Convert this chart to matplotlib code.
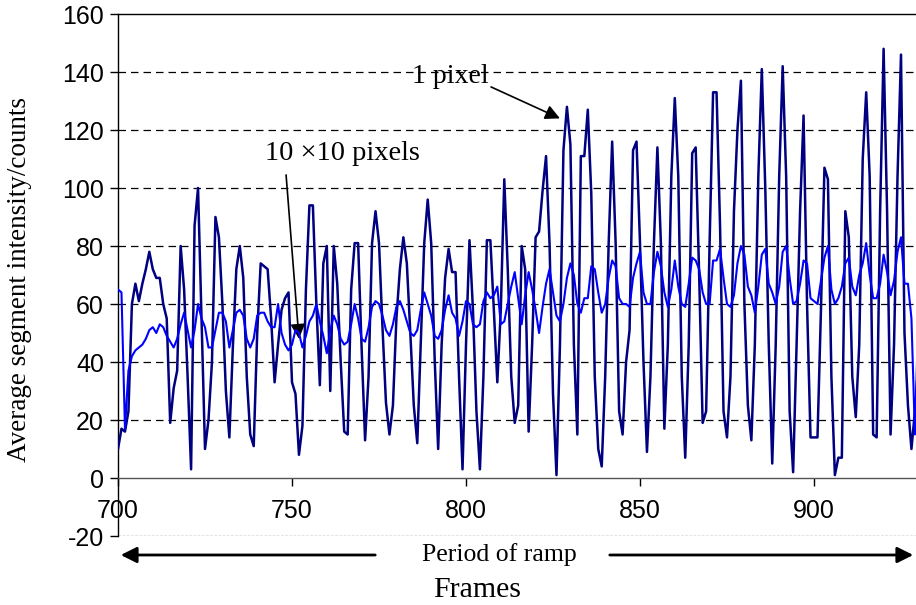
import numpy as np
import matplotlib
matplotlib.use("Agg")
import matplotlib.pyplot as plt

plt.rcParams["axes.unicode_minus"] = False

frames = np.arange(700, 931)

one_pixel = [
    10, 17, 16, 23, 60, 67, 61, 67, 72, 78,
    72, 69, 69, 60, 55, 19, 31, 37, 80, 65,
    35, 3, 87, 100, 55, 10, 20, 40, 90, 83,
    60, 30, 14, 45, 72, 80, 69, 35, 15, 11,
    50, 74, 73, 72, 55, 33, 46, 58, 62, 64,
    33, 29, 8, 18, 65, 94, 94, 60, 32, 74,
    80, 30, 80, 67, 40, 16, 15, 65, 81, 81,
    45, 13, 35, 81, 92, 81, 52, 26, 15, 25,
    55, 72, 83, 74, 50, 25, 12, 46, 81, 96,
    81, 41, 10, 46, 69, 79, 71, 71, 35, 3,
    46, 82, 58, 23, 3, 35, 82, 82, 58, 33,
    58, 103, 72, 35, 19, 25, 80, 72, 16, 46,
    83, 85, 99, 111, 81, 29, 1, 46, 113, 128,
    115, 46, 15, 111, 111, 127, 98, 35, 10, 4,
    35, 81, 116, 81, 23, 15, 40, 51, 113, 116,
    81, 40, 9, 35, 81, 114, 81, 17, 46, 104,
    131, 104, 35, 7, 46, 112, 114, 70, 19, 23,
    81, 133, 133, 87, 23, 14, 35, 92, 120, 137,
    60, 25, 13, 46, 104, 141, 100, 46, 5, 46,
    104, 142, 104, 23, 2, 46, 92, 125, 60, 14,
    14, 14, 58, 107, 103, 35, 1, 7, 7, 92,
    83, 35, 21, 46, 110, 133, 104, 15, 14, 92,
    148, 92, 15, 46, 104, 146, 50, 25, 10, 23,
    40,
]

ten_by_ten = [
    65, 64, 17, 37, 42, 44, 45, 46, 48, 51,
    52, 50, 53, 52, 49, 47, 45, 48, 53, 57,
    51, 45, 51, 60, 55, 52, 45, 45, 51, 57,
    57, 54, 45, 51, 57, 58, 56, 48, 45, 48,
    56, 57, 57, 54, 52, 52, 60, 50, 46, 44,
    46, 51, 50, 45, 49, 54, 56, 60, 54, 49,
    43, 51, 56, 53, 48, 46, 47, 53, 60, 55,
    48, 47, 52, 59, 61, 60, 56, 51, 49, 53,
    59, 61, 58, 54, 50, 49, 51, 58, 64, 60,
    56, 49, 48, 51, 58, 63, 57, 55, 49, 54,
    61, 60, 53, 52, 53, 61, 64, 62, 63, 66,
    53, 54, 60, 66, 71, 62, 53, 63, 71, 65,
    58, 50, 59, 67, 72, 64, 56, 54, 60, 69,
    74, 70, 60, 57, 62, 62, 73, 72, 64, 57,
    60, 69, 75, 73, 62, 60, 60, 59, 69, 74,
    78, 64, 60, 60, 71, 78, 73, 64, 59, 65,
    75, 66, 60, 59, 67, 76, 75, 72, 64, 60,
    60, 75, 75, 79, 69, 60, 59, 63, 74, 80,
    77, 66, 63, 57, 66, 77, 79, 67, 64, 60,
    66, 78, 80, 69, 60, 61, 67, 75, 74, 62,
    61, 60, 68, 76, 80, 65, 60, 62, 66, 74,
    76, 66, 63, 70, 74, 81, 70, 62, 62, 67,
    77, 71, 63, 68, 78, 83, 67, 67, 55, 15,
    57,
]

x_ticks = [700, 750, 800, 850, 900]
y_ticks = [-20, 0, 20, 40, 60, 80, 100, 120, 140, 160]

SERIF = ["Liberation Serif", "DejaVu Serif"]
NARROW = ["Liberation Sans Narrow", "Liberation Sans", "DejaVu Sans"]

W, H = 916, 605
fig = plt.figure(figsize=(W / 100, H / 100), dpi=100)
ax = fig.add_axes([118 / W, 1 - 536 / H, 1 - 118 / W, (536 - 14) / H])

ax.set_xlim(700, 700 + (916 - 118) / 3.48)
ax.set_ylim(-20, 160)

for yv in y_ticks[2:-1]:
    ax.axhline(yv, color="black", lw=0.9, ls=(0, (6, 4)), zorder=1)

ax.plot(frames, one_pixel, color="#000080", lw=1.8, zorder=3)
ax.plot(frames, ten_by_ten, color="#0000FF", lw=1.5, zorder=4)

# spines
ax.spines["right"].set_visible(False)
ax.spines["top"].set_color("black")
ax.spines["top"].set_linewidth(1.0)
ax.spines["left"].set_linewidth(1.0)
ax.spines["bottom"].set_position(("data", 0))
ax.spines["bottom"].set_linewidth(1.0)
ax.spines["bottom"].set_color("#555555")
ax.axhline(-20, color="#777777", lw=1.0, ls=(0, (2, 1)), zorder=1)

ax.set_xticks(x_ticks)
ax.set_yticks(y_ticks)
ax.tick_params(axis="x", direction="out", length=6, width=1, pad=9, colors="black")
ax.tick_params(axis="y", direction="out", length=6, width=1, pad=4)
for lab in ax.get_xticklabels() + ax.get_yticklabels():
    lab.set_family(NARROW)
    lab.set_fontsize(18)

fig.text(20 / W, 1 - 280 / H, "Average segment intensity/counts", rotation=90,
         ha="center", va="center", family=SERIF, fontsize=19.5)

# annotations
ax.annotate("1 pixel", xy=(827, 124), xytext=(795.4, 138.3),
            ha="center", va="center", family=SERIF, fontsize=20,
            arrowprops=dict(arrowstyle="-|>", color="black", lw=1.2,
                            mutation_scale=22, shrinkA=0, shrinkB=0,
                            relpos=(1.0, 0.15)))
ax.annotate("", xy=(752, 48), xytext=(748.3, 104.5),
            arrowprops=dict(arrowstyle="-|>", color="black", lw=1.2,
                            mutation_scale=22, shrinkA=0, shrinkB=0))
ax.text(764.5, 112, "10 \u00d710 pixels", ha="center", va="center",
        family=SERIF, fontsize=20.5)

# Period of ramp arrow (figure pixels)
yp = 1 - 555 / H
fig.add_artist(matplotlib.patches.FancyArrowPatch(
    (378 / W, yp), (118 / W, yp), transform=fig.transFigure,
    arrowstyle="-|>", mutation_scale=24, color="black", lw=2.0))
fig.add_artist(matplotlib.patches.FancyArrowPatch(
    (607 / W, yp), (916 / W, yp), transform=fig.transFigure,
    arrowstyle="-|>", mutation_scale=24, color="black", lw=2.0))
fig.text(499 / W, yp, "Period of ramp", ha="center", va="center",
         family=SERIF, fontsize=18.5)
fig.text(477 / W, 1 - 590 / H, "Frames", ha="center", va="center",
         family=SERIF, fontsize=21.5)

fig.savefig("out.png", dpi=100)
